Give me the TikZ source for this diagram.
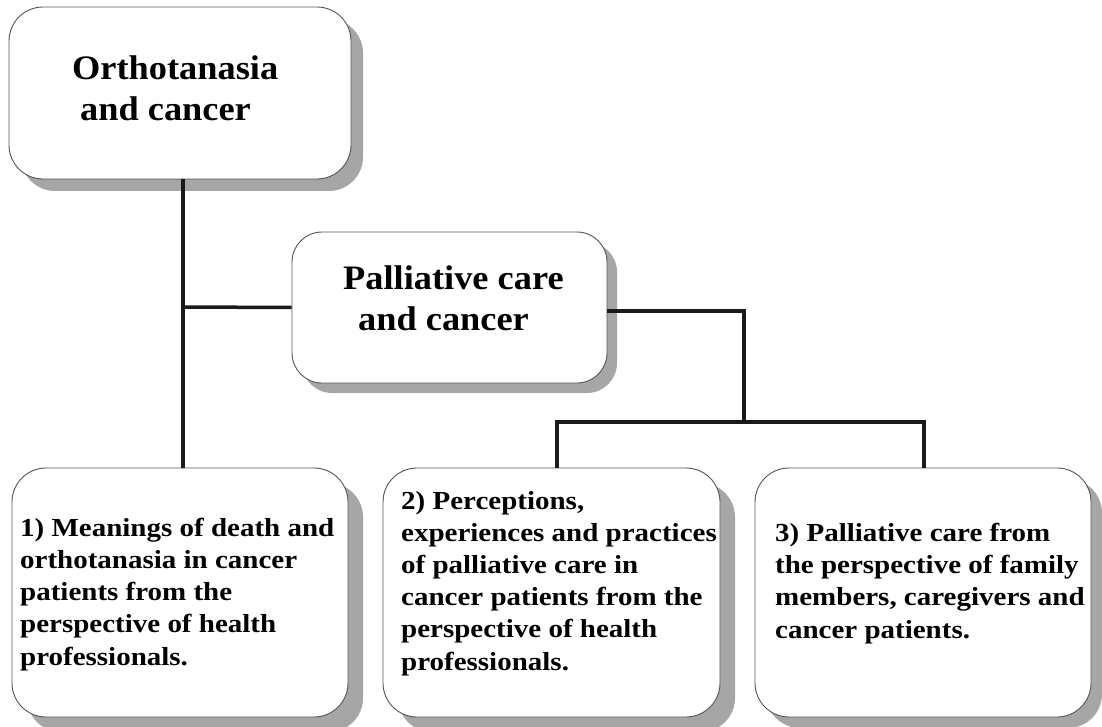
\documentclass[tikz,border=0pt]{standalone}
\usepackage{fontspec}
\setmainfont{Liberation Serif}
\newfontfamily\bigfont[FakeStretch=1.06]{Liberation Serif}
\newfontfamily\smallfont[FakeStretch=1.115]{Liberation Serif}
\usetikzlibrary{shadows}
\definecolor{shadowgray}{HTML}{A6A6A6}
\definecolor{bordergray}{HTML}{555555}
\definecolor{linecol}{HTML}{1A1A1A}
\tikzset{
  box/.style={draw=bordergray, line width=0.9pt, fill=white, rounded corners=34pt, inner sep=0pt},
  shad/.style={drop shadow={shadow xshift=#1, shadow yshift=-#1, fill=shadowgray, opacity=1}},
  bigtext/.style={inner sep=0pt, anchor=base west, align=left, font=\bigfont\bfseries\fontsize{34.3}{41}\selectfont},
  smalltext/.style={inner sep=0pt, anchor=base west, align=left, font=\smallfont\bfseries\fontsize{26}{32.2}\selectfont},
  conn/.style={draw=linecol, line width=3.5pt}
}
\begin{document}
\begin{tikzpicture}[x=1pt,y=-1pt]
\useasboundingbox[fill=white] (0,0) rectangle (1102,727);
% boxes
\node[box, shad=12pt, minimum width=342pt, minimum height=172pt] (o) at (180,93) {};
\node[box, shad=10pt, rounded corners=30pt, minimum width=315pt, minimum height=151pt] (p) at (449.5,307.5) {};
\node[box, shad=15pt, minimum width=336pt, minimum height=249pt] (m1) at (180,592.5) {};
\node[box, shad=15pt, minimum width=337pt, minimum height=249pt] (m2) at (551.5,592.5) {};
\node[box, shad=11pt, minimum width=336pt, minimum height=249pt] (m3) at (923,592.5) {};
% texts (anchor = baseline of last line)
\node[bigtext] (to) at (72,121) {Orthotanasia\\\hspace*{8pt}and cancer};
\node[bigtext] (tp) at (343,330) {Palliative care\\\hspace*{15pt}and cancer};
\node[smalltext] (t1) at (20,665) {1) Meanings of death and\\orthotanasia in cancer\\patients from the\\perspective of health\\professionals.};
\node[smalltext] (t2) at (401,670) {2) Perceptions,\\experiences and practices\\of palliative care in\\cancer patients from the\\perspective of health\\professionals.};
\node[smalltext] (t3) at (775,638) {3) Palliative care from\\the perspective of family\\members, caregivers and\\cancer patients.};
% connectors
\coordinate (a) at (183,307);
\coordinate (j) at (744,422);
\coordinate (bl) at (557,422);
\coordinate (br) at (924,422);
\draw[conn] (o.south -| a) -- (m1.north -| a);
\draw[conn] (a) -- (p.west);
\draw[conn] ([yshift=-3.5pt]p.east) -| (j);
\draw[conn] (m2.north -| bl) -- (bl) -- (br) -- (m3.north -| br);
\end{tikzpicture}
\end{document}
